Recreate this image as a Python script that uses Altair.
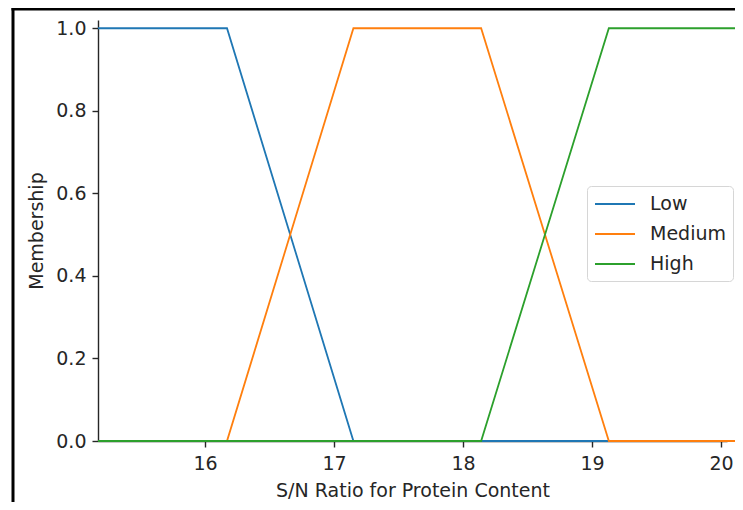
import altair as alt
import pandas as pd

# breakpoints along the S/N axis
x_points = [15.17, 16.17, 17.15, 18.14, 19.13, 20.13]
low = [1.0, 1.0, 0.0, 0.0, 0.0, 0.0]
medium = [0.0, 0.0, 1.0, 1.0, 0.0, 0.0]
high = [0.0, 0.0, 0.0, 0.0, 1.0, 1.0]
series_names = ["Low", "Medium", "High"]
series_colors = ["#1f77b4", "#ff7f0e", "#2ca02c"]
y_ticks = [0.0, 0.2, 0.4, 0.6, 0.8, 1.0]
x_ticks = [16, 17, 18, 19, 20]

rows = []
for name, vals in zip(series_names, [low, medium, high]):
    for i, (xv, yv) in enumerate(zip(x_points, vals)):
        rows.append({"x": xv, "y": yv, "series": name, "order": i})
df = pd.DataFrame(rows)

FONT = "DejaVu Sans"
FS = 19
W, H = 629, 421
TXT = "#262626"

axis_common = dict(grid=False, domainColor=TXT, tickColor=TXT, tickSize=6, domainWidth=1.4,
                   tickWidth=1.4, labelFontSize=FS, titleFontSize=FS, labelColor=TXT,
                   titleColor=TXT, labelFont=FONT, titleFont=FONT, titleFontWeight="normal")

lines = alt.Chart(df).mark_line(strokeWidth=1.8, clip=False).encode(
    x=alt.X("x:Q", scale=alt.Scale(domain=[15.17, 20.046], nice=False, zero=False),
            axis=alt.Axis(values=x_ticks, title="S/N Ratio for Protein Content", format="d",
                          labelPadding=7, titlePadding=8, labelFlush=False, **axis_common)),
    y=alt.Y("y:Q", scale=alt.Scale(domain=[0, 1.02], nice=False),
            axis=alt.Axis(values=y_ticks, title="Membership", format=".1f",
                          labelPadding=6, titlePadding=9, **axis_common)),
    color=alt.Color("series:N", sort=series_names,
                    scale=alt.Scale(domain=series_names, range=series_colors),
                    legend=alt.Legend(title=None, orient="none", legendX=489, legendY=166,
                                      symbolType="M-1,0L3,0", symbolStrokeWidth=1.8,
                                      symbolSize=400, symbolFillColor="transparent",
                                      labelFontSize=FS, labelFont=FONT, labelColor=TXT,
                                      labelOffset=34, rowPadding=9, padding=7, fillColor="white",
                                      strokeColor="#d6d6d6", cornerRadius=4)),
    order="order:Q",
    detail="series:N",
)

frame_df = pd.DataFrame({"k": [0]})
left_border = alt.Chart(frame_df).mark_rule(color="black", strokeWidth=3, clip=False).encode(
    x=alt.value(-85), y=alt.value(-13), y2=alt.value(H + 100))
top_border = alt.Chart(frame_df).mark_rule(color="black", strokeWidth=3, clip=False).encode(
    x=alt.value(-86.5), x2=alt.value(W + 20), y=alt.value(-11))

chart = alt.layer(left_border, top_border, lines).properties(
    width=W, height=H,
    background="white",
    autosize=alt.AutoSizeParams(type="none"),
    padding={"left": 90, "top": 12, "right": 8, "bottom": 61},
).configure_view(stroke=None)

chart.save("out.html", embed_options={"renderer": "svg", "actions": False})
